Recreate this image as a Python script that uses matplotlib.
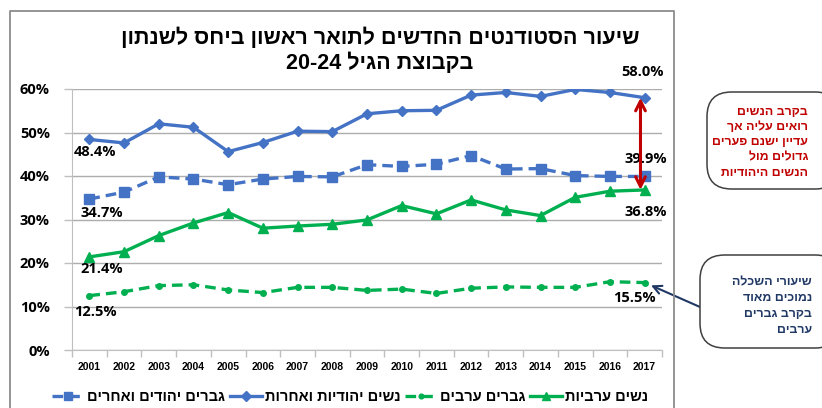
import matplotlib
matplotlib.use("Agg")
import matplotlib.pyplot as plt
from matplotlib.patches import FancyBboxPatch
from matplotlib.lines import Line2D
from matplotlib.ticker import MultipleLocator, FixedLocator

def rtl(s):
    return s[::-1]

years = list(range(2001, 2018))
jewish_women = [48.4, 47.6, 52.0, 51.2, 45.6, 47.7, 50.3, 50.2, 54.3, 55.0, 55.1, 58.6, 59.2, 58.3, 59.9, 59.2, 58.0]
jewish_men = [34.7, 36.3, 39.8, 39.3, 38.0, 39.3, 39.9, 39.8, 42.6, 42.2, 42.7, 44.7, 41.6, 41.7, 40.1, 39.9, 39.9]
arab_women = [21.4, 22.6, 26.3, 29.2, 31.6, 28.0, 28.5, 28.9, 29.9, 33.2, 31.3, 34.5, 32.2, 30.9, 35.1, 36.5, 36.8]
arab_men = [12.5, 13.4, 14.8, 15.0, 13.8, 13.2, 14.4, 14.4, 13.7, 14.0, 13.0, 14.2, 14.5, 14.4, 14.4, 15.7, 15.5]

names = {
    "jm": "גברים יהודים ואחרים",
    "jw": "נשים יהודיות ואחרות",
    "am": "גברים ערבים",
    "aw": "נשים ערביות",
}
title1 = "שיעור הסטודנטים החדשים לתואר ראשון ביחס לשנתון"
title2_he = "בקבוצת הגיל"
title2_num = "20-24"
red_note = ["בקרב הנשים", "רואים עליה אך", "עדיין ישנם פערים", "גדולים מול", "הנשים היהודיות"]
navy_note = ["שיעורי השכלה", "נמוכים מאוד", "בקרב גברים", "ערבים"]

BLUE = "#4472C4"
GREEN = "#00B050"
RED = "#C00000"
NAVY = "#1F3864"
HEB = ["Liberation Sans", "DejaVu Sans"]
NUM = ["Open Sans", "DejaVu Sans"]

W, H = 822, 408
fig = plt.figure(figsize=(W / 100, H / 100), dpi=100)
ax = fig.add_axes([72 / W, 1 - 350 / H, (662 - 72) / W, (350 - 89) / H])

lw = 2.4
ax.plot(years, jewish_men, color=BLUE, lw=lw, ls=(0, (3.2, 1.8)), marker="s", ms=7.5, label=rtl(names["jm"]), zorder=3)
ax.plot(years, jewish_women, color=BLUE, lw=lw, marker="D", ms=5.5, label=rtl(names["jw"]), zorder=3)
ax.plot(years, arab_men, color=GREEN, lw=lw, ls=(0, (3.2, 1.8)), marker="o", ms=4, label=rtl(names["am"]), zorder=3)
ax.plot(years, arab_women, color=GREEN, lw=lw, marker="^", ms=7.5, label=rtl(names["aw"]), zorder=3)

ax.set_xlim(2000.5, 2017.5)
ax.set_ylim(0, 60)
ax.yaxis.set_major_locator(MultipleLocator(10))
ax.set_yticklabels([f"{int(v)}%" for v in ax.get_yticks()])
ax.set_xticks(years)
ax.set_xticklabels([str(y) for y in years])
ax.xaxis.set_minor_locator(FixedLocator([y + 0.5 for y in range(2000, 2018)]))
ax.tick_params(axis="x", which="major", length=0, pad=9)
ax.tick_params(axis="x", which="minor", length=5, color="#BFBFBF", width=1)
ax.tick_params(axis="y", length=6, color="#BFBFBF", width=1, pad=10)
for lab in ax.get_xticklabels():
    lab.set_fontfamily(["Liberation Sans", "DejaVu Sans"])
    lab.set_fontweight("bold")
    lab.set_fontsize(7.5)
for lab in ax.get_yticklabels():
    lab.set_fontfamily(NUM)
    lab.set_fontweight("bold")
    lab.set_fontsize(10.5)
ax.grid(axis="y", color="#ADADAD", lw=1)
ax.set_axisbelow(True)
for s in ["top", "right"]:
    ax.spines[s].set_visible(False)
ax.spines["left"].set_color("#BFBFBF")
ax.spines["bottom"].set_color("#BFBFBF")

# data labels
def lab(x, y, txt, dx, dy):
    ax.annotate(txt, (x, y), xytext=(dx, dy), textcoords="offset pixels",
                ha="center", va="center", fontsize=10.5, fontweight="bold",
                family=NUM, color="#000000", zorder=5)

lab(years[-1], jewish_women[-1], f"{jewish_women[-1]:.1f}%", -2, 26)
lab(years[-1], jewish_men[-1], f"{jewish_men[-1]:.1f}%", 1, 17)
lab(years[-1], arab_women[-1], f"{arab_women[-1]:.1f}%", 1, -22)
lab(years[-1], arab_men[-1], f"{arab_men[-1]:.1f}%", -10, -15)
lab(years[0], jewish_women[0], f"{jewish_women[0]:.1f}%", 6, -13)
lab(years[0], jewish_men[0], f"{jewish_men[0]:.1f}%", 12, -14)
lab(years[0], arab_women[0], f"{arab_women[0]:.1f}%", 12, -12)
lab(years[0], arab_men[0], f"{arab_men[0]:.1f}%", 6, -16)

# red double arrow
ax.annotate("", xy=(years[-1] - 0.12, jewish_women[-1]), xytext=(years[-1] - 0.12, arab_women[-1]),
            arrowprops=dict(arrowstyle="<->,head_length=0.7,head_width=0.35", color=RED, lw=2.2,
                            shrinkA=0, shrinkB=0), zorder=6)

# navy arrow from box to arab men 2017
ax.annotate("", xy=(years[-1], arab_men[-1]), xytext=(700 / W, 1 - 307 / H), textcoords="figure fraction",
            arrowprops=dict(arrowstyle="->,head_length=0.6,head_width=0.3", color=NAVY, lw=1.5,
                            shrinkA=0, shrinkB=5), zorder=6, annotation_clip=False)

# title
fig.text(380 / W, 1 - 38 / H, rtl(title1), ha="center", va="center", fontsize=15.5,
         fontweight="bold", family=HEB)
fig.text(380 / W, 1 - 63 / H, title2_num + " " + rtl(title2_he), ha="center", va="center",
         fontsize=15.5, fontweight="bold", family=HEB)

# outer frame (left, top, right)
fig.add_artist(Line2D([10 / W, 10 / W, 674 / W, 674 / W], [-0.05, 1 - 11 / H, 1 - 11 / H, -0.05],
                      transform=fig.transFigure, color="#8C8C8C", lw=1.3))

# note boxes
def note_box(x0, y0, y1, lines, color, x_text, y_first, step, fs):
    box = FancyBboxPatch((x0 / W, 1 - y1 / H), (840 - x0) / W, (y1 - y0) / H,
                         boxstyle="round,pad=0,rounding_size=0.03", transform=fig.transFigure,
                         facecolor="white", edgecolor="#404040", lw=1.1, mutation_aspect=W / H)
    fig.add_artist(box)
    for i, t in enumerate(lines):
        fig.text(x_text / W, 1 - (y_first + i * step) / H, rtl(t), ha="right", va="center",
                 fontsize=fs, fontweight="bold", color=color, family=HEB)

note_box(707, 92, 189, red_note, RED, 808, 112, 15.2, 8.9)
note_box(700, 255, 348, navy_note, NAVY, 812, 282, 16, 8.9)

# legend
handles, labels = ax.get_legend_handles_labels()
fig.legend(handles, labels, loc="center", bbox_to_anchor=(350 / W, 1 - 397 / H), ncol=4,
           frameon=False, prop={"family": HEB, "weight": "bold", "size": 10.5},
           handlelength=2.2, handletextpad=0.2, columnspacing=0.3, borderaxespad=0,
           markerscale=0.85)

fig.savefig("out.png", dpi=100)
